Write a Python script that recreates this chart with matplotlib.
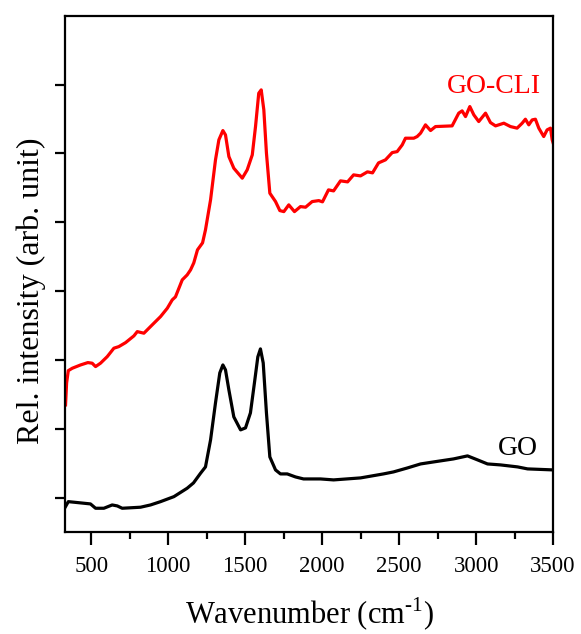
import numpy as np
import matplotlib
matplotlib.use('Agg')
import matplotlib.pyplot as plt

plt.rcParams['font.family'] = ['Liberation Serif', 'DejaVu Serif']
plt.rcParams['mathtext.fontset'] = 'custom'
plt.rcParams['mathtext.rm'] = 'Liberation Serif'

# GO spectrum (black)
go_wn = [333, 351, 387, 452, 495, 528, 582, 636, 669, 701, 820, 885, 950, 1037, 1123,
         1164, 1210, 1242, 1275, 1307, 1335, 1355, 1372, 1394, 1426, 1470, 1502, 1534,
         1560, 1582, 1599, 1617, 1638, 1660, 1697, 1729, 1773, 1827, 1879, 1989, 2074,
         2249, 2398, 2463, 2554, 2639, 2723, 2853, 2944, 3009, 3074, 3158, 3269, 3334, 3503]
go_int = [-0.132, -0.060, -0.068, -0.083, -0.093, -0.156, -0.156, -0.108, -0.122, -0.156,
          -0.141, -0.108, -0.060, 0.013, 0.135, 0.212, 0.353, 0.445, 0.837, 1.375, 1.811,
          1.927, 1.855, 1.564, 1.172, 0.983, 1.012, 1.230, 1.666, 2.044, 2.160, 1.956,
          1.230, 0.590, 0.401, 0.343, 0.343, 0.299, 0.270, 0.270, 0.256, 0.285, 0.343,
          0.372, 0.430, 0.488, 0.517, 0.561, 0.605, 0.547, 0.488, 0.474, 0.445, 0.416, 0.401]

# GO-CLI spectrum (red)
cli_wn = [333, 340, 351, 377, 431, 478, 506, 528, 560, 604, 647, 679, 723, 777, 799, 842,
          896, 950, 994, 1026, 1047, 1091, 1123, 1145, 1166, 1190, 1223, 1242, 1275, 1307,
          1329, 1355, 1372, 1394, 1426, 1481, 1513, 1546, 1567, 1588, 1604, 1621, 1638,
          1660, 1697, 1725, 1751, 1783, 1820, 1859, 1892, 1935, 1978, 2002, 2041, 2074,
          2119, 2165, 2204, 2249, 2294, 2327, 2366, 2411, 2455, 2487, 2520, 2541, 2595,
          2617, 2639, 2671, 2704, 2736, 2844, 2887, 2909, 2931, 2959, 2985, 3017, 3061,
          3093, 3126, 3180, 3223, 3266, 3299, 3320, 3342, 3364, 3385, 3407, 3439, 3461,
          3483, 3494, 3504]
cli_int = [1.346, 1.666, 1.844, 1.879, 1.927, 1.961, 1.952, 1.903, 1.952, 2.048, 2.170,
           2.193, 2.251, 2.349, 2.411, 2.388, 2.509, 2.629, 2.751, 2.872, 2.916, 3.163,
           3.235, 3.308, 3.410, 3.599, 3.701, 3.890, 4.326, 4.907, 5.198, 5.333, 5.270,
           4.955, 4.786, 4.641, 4.762, 4.980, 5.391, 5.876, 5.924, 5.634, 5.005, 4.423,
           4.301, 4.170, 4.155, 4.253, 4.155, 4.228, 4.219, 4.301, 4.315, 4.297, 4.471,
           4.456, 4.602, 4.587, 4.689, 4.674, 4.733, 4.718, 4.863, 4.907, 5.013, 5.027,
           5.125, 5.222, 5.222, 5.246, 5.295, 5.416, 5.333, 5.391, 5.401, 5.586, 5.619,
           5.536, 5.682, 5.561, 5.464, 5.586, 5.449, 5.401, 5.440, 5.391, 5.368, 5.440,
           5.498, 5.416, 5.488, 5.498, 5.368, 5.246, 5.343, 5.368, 5.198, 5.125]

xticks = [500, 1000, 1500, 2000, 2500, 3000, 3500]

fig = plt.figure(figsize=(5.81, 6.34), dpi=100)
ax = fig.add_axes([0.112, 0.161, 0.840, 0.814])

ax.plot(go_wn, go_int, color='black', lw=2.3)
ax.plot(cli_wn, cli_int, color='red', lw=2.3)

ax.text(3113, 5.88, 'GO-CLI', color='red', fontsize=20, ha='center', va='baseline')
ax.text(3268, 0.62, 'GO', color='black', fontsize=20, ha='center', va='baseline')

ax.set_xlim(330, 3500)
ax.set_ylim(-0.5, 7)
ax.set_xticks(xticks)
ax.set_xticks(np.arange(750, 3500, 500), minor=True)
ax.set_yticks(range(0, 7))
ax.set_yticklabels([])

for s in ax.spines.values():
    s.set_linewidth(1.6)
ax.tick_params(axis='x', which='major', direction='out', length=9, width=1.6,
               labelsize=16.5, pad=8)
ax.tick_params(axis='x', which='minor', direction='out', length=5, width=1.6)
ax.tick_params(axis='y', which='major', direction='out', length=7, width=1.6)

ax.set_xlabel('Wavenumber (cm$^{\\mathregular{\u2010}1}$)', fontsize=22, labelpad=14)
ax.set_ylabel('Rel. intensity (arb. unit)', fontsize=23)
ax.yaxis.set_label_coords(-0.040, 0.467)

fig.savefig('out.png', dpi=100, facecolor='white')
